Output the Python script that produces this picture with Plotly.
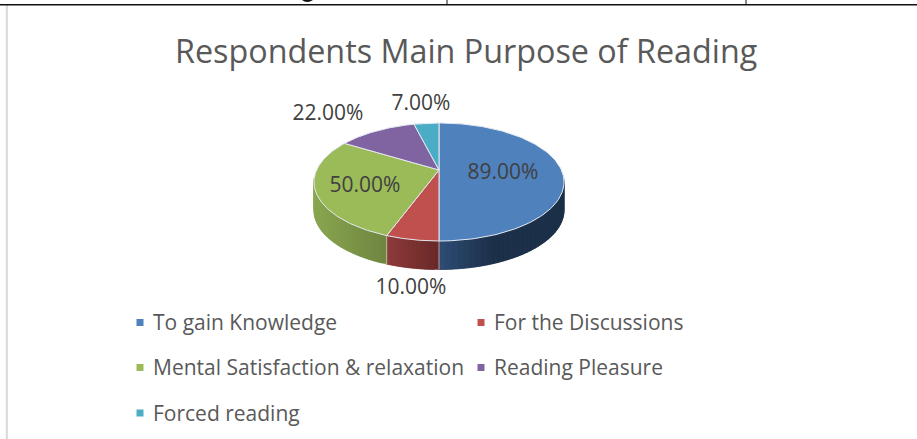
import numpy as np
import plotly.graph_objects as go

categories = ["To gain Knowledge", "For the Discussions", "Mental Satisfaction & relaxation", "Reading Pleasure", "Forced reading"]
values = [89.0, 10.0, 50.0, 22.0, 7.0]
colors = ["#4f81bd", "#c0504d", "#9bbb59", "#8064a2", "#4bacc6"]
wall_left = ["#2f4e78", "#8f3c3a", "#8ba651"]
wall_right = ["#1c3049", "#6a2929", "#6f8640"]

title = "Respondents Main Purpose of Reading"
label_xy = [(503, 173.5), (411, 288.5), (365, 186.5), (328, 114.5), (421, 104.5)]
legend_xy = [(140, 322.5), (481, 322.5), (140, 367.5), (481, 367.5), (140, 413)]
legend_text_dy = 2.5

# Perspective projection of the pie disc into pixel space
CX, APEX_Y, D, A, C, DEPTH = 439.0, 170.0, 122.4, -21.98, 0.2034, 28.5


def project(theta, r=1.0, drop=0.0):
    u, v = r * np.sin(theta), r * np.cos(theta)
    den = 1 + C * v
    return CX + D * u / den, (A * v + APEX_Y) / den + drop


def rgb(h):
    return np.array([int(h[k:k + 2], 16) for k in (1, 3, 5)], dtype=float)


bounds = np.concatenate([[0], np.cumsum(values)]) / sum(values) * 2 * np.pi
fig = go.Figure()
common = dict(mode="lines", fill="toself", hoverinfo="skip", showlegend=False)

# Visible side wall, drawn as overlapping shaded strips
for i, (lo, hi) in enumerate(zip(bounds[:-1], bounds[1:])):
    lo2, hi2 = max(lo, np.pi / 2 + 0.12), min(hi, 3 * np.pi / 2 - 0.12)
    if lo2 >= hi2 or i > 2:
        continue
    n = 36 if i != 1 else 12
    edges = np.linspace(lo2, hi2, n + 1)
    x_all = project(edges)[0]
    xmin, xmax = x_all.min(), x_all.max()
    for k in range(n):
        a, b = edges[k], edges[min(k + 2, n)]
        ts = np.linspace(a, b, 4)
        xs, ys = project(ts)
        xb, yb = project(ts[::-1], drop=DEPTH)
        frac = (project(edges[k])[0] - xmin) / max(xmax - xmin, 1)
        if i == 0:
            # the blue wall is lightest at the seam and reaches full dark quickly
            frac = min(frac / 0.45, 1)
        c = rgb(wall_left[i]) + (rgb(wall_right[i]) - rgb(wall_left[i])) * frac
        col = f"rgb({c[0]:.0f},{c[1]:.0f},{c[2]:.0f})"
        fig.add_trace(go.Scatter(x=np.r_[xs, xb, xs[0]], y=np.r_[ys, yb, ys[0]], fillcolor=col, line=dict(color=col, width=0.5), **common))

# Separators on the wall
for th in bounds[1:3]:
    x0, y0 = project(th)
    x1, y1 = project(th, drop=DEPTH)
    fig.add_trace(go.Scatter(x=[x0, x1], y=[y0, y1], mode="lines", line=dict(color="#d9d9d9", width=1), hoverinfo="skip", showlegend=False, opacity=0.7))

# Top face
for lo, hi, col, name in zip(bounds[:-1], bounds[1:], colors, categories):
    ts = np.linspace(lo, hi, 120)
    xs, ys = project(ts)
    fig.add_trace(go.Scatter(x=np.r_[CX, xs, CX], y=np.r_[APEX_Y, ys, APEX_Y], fillcolor=col, name=name,
                             line=dict(color="#e4e9f0", width=1), **common))

# Data labels
fig.add_trace(go.Scatter(x=[p[0] for p in label_xy], y=[p[1] for p in label_xy], mode="text",
                         text=[f"{v:.2f}%" for v in values], textposition="middle center",
                         textfont=dict(family="Open Sans", size=21, color="#404040"),
                         hoverinfo="skip", showlegend=False))

# Legend: square markers and names
fig.add_trace(go.Scatter(x=[p[0] for p in legend_xy], y=[p[1] for p in legend_xy], mode="markers",
                         marker=dict(symbol="square", size=7, color=colors),
                         hoverinfo="skip", showlegend=False))
fig.add_trace(go.Scatter(x=[p[0] + 13 for p in legend_xy], y=[p[1] + legend_text_dy for p in legend_xy], mode="text",
                         text=categories, textposition="middle right",
                         textfont=dict(family="Open Sans", size=21, color="#595959"),
                         hoverinfo="skip", showlegend=False))

shapes = [
    dict(type="line", x0=6.8, x1=6.8, y0=5, y1=439, line=dict(color="#d9d9d9", width=2)),
    dict(type="line", x0=0, x1=917, y0=4.8, y1=4.8, line=dict(color="#111111", width=1.6)),
    dict(type="line", x0=447, x1=447, y0=0, y1=5, line=dict(color="#111111", width=1)),
    dict(type="line", x0=746, x1=746, y0=0, y1=5, line=dict(color="#111111", width=1)),
    dict(type="path", path="M 302 0 Q 307 4 313 0 Z", fillcolor="#111111", line=dict(width=0)),
]

fig.update_layout(
    width=917, height=439, margin=dict(l=0, r=0, t=0, b=0),
    paper_bgcolor="white", plot_bgcolor="white", shapes=shapes,
    xaxis=dict(range=[0, 917], visible=False, fixedrange=True),
    yaxis=dict(range=[439, 0], visible=False, fixedrange=True),
    annotations=[dict(text=title, x=465.5, y=49.5, xref="x", yref="y", showarrow=False,
                      font=dict(family="Open Sans", size=32.3, color="#595959"))],
)
fig.write_html("out.html", config=dict(displayModeBar=False),
               post_script="document.body.style.margin='0';document.body.style.overflow='hidden';")
